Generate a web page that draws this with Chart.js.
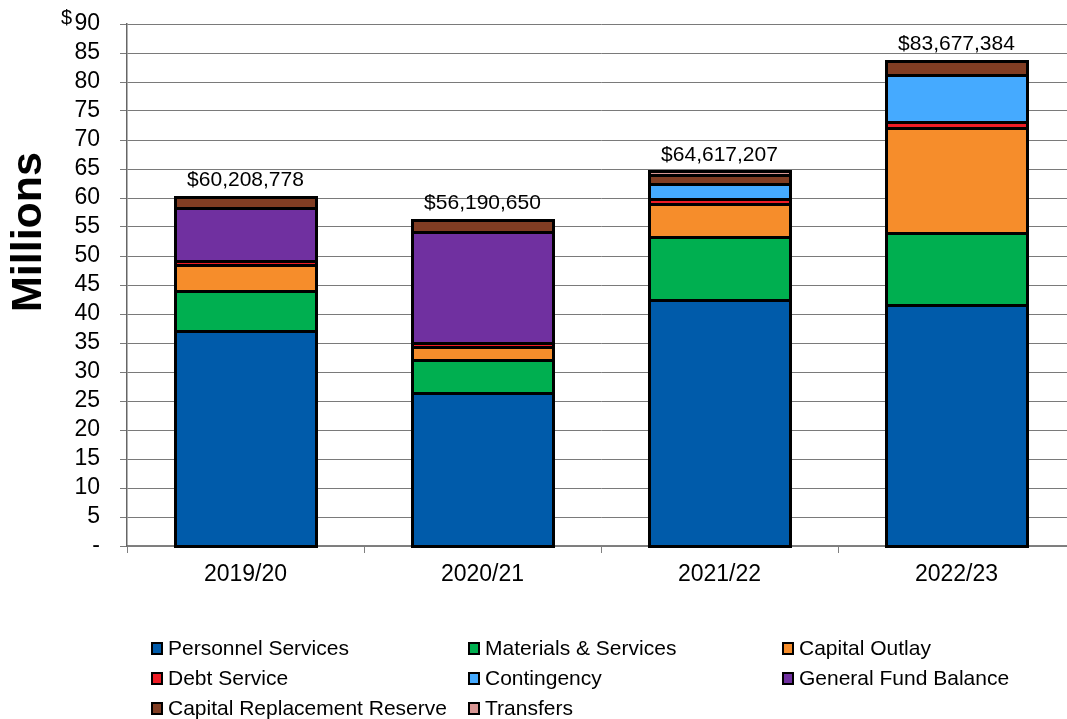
<!DOCTYPE html>
<html lang="en">
<head>
    <meta charset="UTF-8">
    <title>General Fund Requirements</title>
    <script src="https://cdn.jsdelivr.net/npm/chart.js"></script>
    <style>
        html, body { margin: 0; padding: 0; overflow: hidden; background: #fff; }
        #wrap { position: absolute; left: 0; top: 0; width: 1085px; height: 719px; }
    </style>
</head>
<body>
    <div id="wrap">
        <canvas id="budgetChart" width="1085" height="719"></canvas>
    </div>

    <script>
        // values in millions
        const years = ['2019/20', '2020/21', '2021/22', '2022/23'];
        const personnel = [37.07, 26.4, 42.4, 41.55];
        const materials = [6.9, 5.7, 10.9, 12.4];
        const capitalOutlay = [4.48, 2.2, 5.7, 18.1];
        const debtService = [0.69, 0.7, 0.85, 1.0];
        const contingency = [null, null, 2.6, 8.1];
        const generalFund = [9.14, 19.1, null, null];
        const capitalReserve = [1.93, 2.09, 1.6, 2.53];
        const transfers = [null, null, 0.55, null];
        const totalLabels = ['$60,208,778', '$56,190,650', '$64,617,207', '$83,677,384'];
        const yTicks = [0, 5, 10, 15, 20, 25, 30, 35, 40, 45, 50, 55, 60, 65, 70, 75, 80, 85, 90];

        const FONT = '"Liberation Sans", Arial, sans-serif';

        function ds(label, data, color) {
            return {
                label: label,
                data: data,
                backgroundColor: color,
                borderWidth: 0,
                barPercentage: 0.595,
                categoryPercentage: 1.0
            };
        }

        function stackTotal(chart, i) {
            let sum = 0;
            chart.data.datasets.forEach(d => { sum += d.data[i] || 0; });
            return sum;
        }

        // black 3px edge on every segment, centred on its edges like the original
        const outline = {
            id: 'outline',
            afterDatasetsDraw(chart) {
                const ctx = chart.ctx;
                ctx.save();
                ctx.strokeStyle = '#000';
                ctx.lineWidth = 3;
                chart.data.datasets.forEach((d, di) => {
                    chart.getDatasetMeta(di).data.forEach((bar, i) => {
                        if (d.data[i] == null) return;
                        const left = Math.round(bar.x - bar.width / 2) + 0.5;
                        const right = Math.round(bar.x + bar.width / 2) + 0.5;
                        const top = Math.round(Math.min(bar.y, bar.base)) + 0.5;
                        const bottom = Math.round(Math.max(bar.y, bar.base)) + 0.5;
                        ctx.strokeRect(left, top, right - left, bottom - top);
                    });
                });
                ctx.restore();
            }
        };

        // totals, "Millions" title, "$" mark and the 3-column legend
        const extras = {
            id: 'extras',
            afterDraw(chart) {
                const ctx = chart.ctx;
                const x = chart.scales.x, y = chart.scales.y;
                ctx.save();
                ctx.fillStyle = '#000';

                ctx.font = '21px ' + FONT;
                ctx.textAlign = 'center';
                ctx.textBaseline = 'bottom';
                years.forEach((yr, i) => {
                    ctx.fillText(totalLabels[i], x.getPixelForValue(i), y.getPixelForValue(stackTotal(chart, i)) - 6);
                });

                ctx.font = '20px ' + FONT;
                ctx.textAlign = 'right';
                ctx.textBaseline = 'top';
                ctx.fillText('$', 72, 8);

                ctx.save();
                ctx.translate(29, 232);
                ctx.rotate(-Math.PI / 2);
                ctx.font = 'bold 43px ' + FONT;
                ctx.textAlign = 'center';
                ctx.textBaseline = 'middle';
                ctx.fillText('Millions', 0, 0);
                ctx.restore();

                const cols = [151, 468, 782];
                const rows = [648, 678, 708];
                ctx.font = '21px ' + FONT;
                ctx.textAlign = 'left';
                ctx.textBaseline = 'middle';
                chart.data.datasets.forEach((d, i) => {
                    const bx = cols[i % 3], by = rows[Math.floor(i / 3)];
                    ctx.fillStyle = '#000';
                    ctx.fillRect(bx, by - 6, 12, 13);
                    ctx.fillStyle = d.backgroundColor;
                    ctx.fillRect(bx + 2, by - 4, 8, 9);
                    ctx.fillStyle = '#000';
                    ctx.fillText(d.label, bx + 17, by + 1);
                });
                ctx.restore();
            }
        };

        const ctx = document.getElementById('budgetChart').getContext('2d');
        const budgetChart = new Chart(ctx, {
            type: 'bar',
            data: {
                labels: years,
                datasets: [
                    ds('Personnel Services', personnel, '#005BAA'),
                    ds('Materials & Services', materials, '#00AF50'),
                    ds('Capital Outlay', capitalOutlay, '#F68D2B'),
                    ds('Debt Service', debtService, '#EE1C25'),
                    ds('Contingency', contingency, '#45AAFF'),
                    ds('General Fund Balance', generalFund, '#7030A0'),
                    ds('Capital Replacement Reserve', capitalReserve, '#813D23'),
                    ds('Transfers', transfers, '#D99694')
                ]
            },
            options: {
                responsive: false,
                animation: false,
                layout: { padding: { left: 0, right: 10, top: 24, bottom: 133 } },
                plugins: {
                    legend: { display: false },
                    tooltip: { enabled: false }
                },
                scales: {
                    x: {
                        stacked: true,
                        afterFit(scale) { scale.height = 40; },
                        grid: { offset: true, drawOnChartArea: false, tickLength: 7, color: '#808080' },
                        border: { color: '#808080', width: 1.5 },
                        ticks: { color: '#000', font: { family: FONT, size: 23 }, padding: 8 }
                    },
                    y: {
                        stacked: true,
                        min: 0,
                        max: 90,
                        afterFit(scale) {
                            scale.width = 127;
                            scale.paddingTop = 0;
                            scale.paddingBottom = 0;
                        },
                        afterBuildTicks(scale) { scale.ticks = yTicks.map(v => ({ value: v })); },
                        grid: { color: '#7a7a7a', lineWidth: 1, tickLength: 7 },
                        border: { color: '#666', width: 1.5 },
                        ticks: {
                            color: '#000',
                            autoSkip: false,
                            font: { family: FONT, size: 23 },
                            padding: 20,
                            callback: v => v === 0 ? '-' : String(v)
                        }
                    }
                }
            },
            plugins: [outline, extras]
        });
    </script>
</body>
</html>
